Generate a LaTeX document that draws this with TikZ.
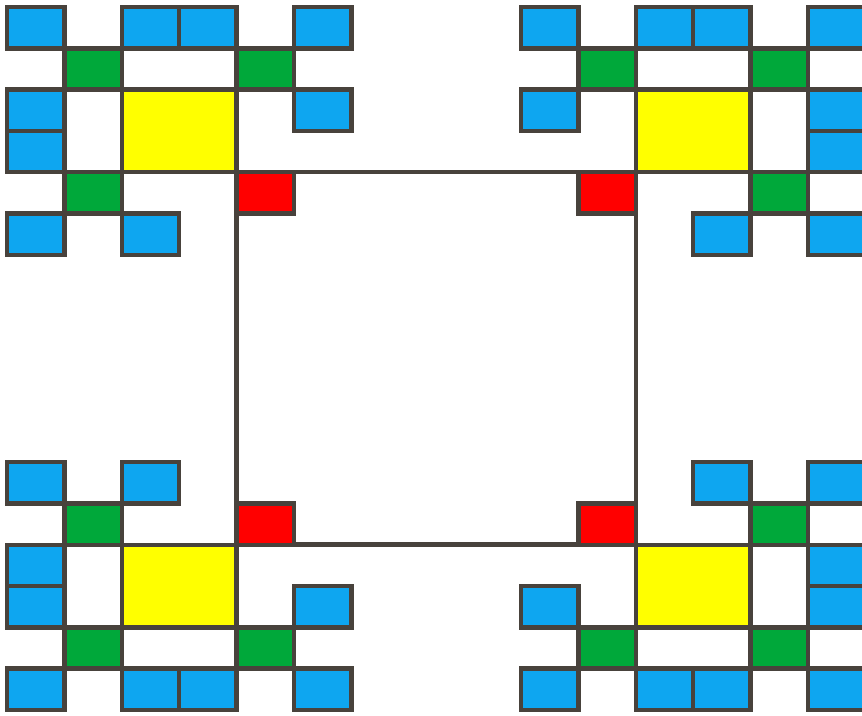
\documentclass[tikz,border=0pt]{standalone}
\definecolor{cellblue}{RGB}{14,166,240}
\definecolor{cellgreen}{RGB}{0,168,58}
\definecolor{cellyellow}{RGB}{255,255,0}
\definecolor{cellred}{RGB}{255,0,0}
\definecolor{edgecol}{RGB}{72,66,60}
\tikzset{
  cellbase/.style={draw=edgecol, line width=4.5pt, line join=miter},
  bluecell/.style={cellbase, fill=cellblue},
  greencell/.style={cellbase, fill=cellgreen},
  yellowcell/.style={cellbase, fill=cellyellow},
  redcell/.style={cellbase, fill=cellred},
  bigsquare/.style={draw=edgecol, line width=4.5pt}
}
\newcommand\drawquadrantcells{%
  \foreach \c/\r in {0/0,2/0,3/0,5/0,0/2,5/2,0/3,0/5,2/5} {\draw[bluecell] (\c,\r) rectangle ++(1,1);}
  \foreach \c/\r in {1/1,4/1,1/4} {\draw[greencell] (\c,\r) rectangle ++(1,1);}
  \draw[yellowcell] (2,2) rectangle (4,4);
  \draw[redcell] (4,4) rectangle (5,5);
}
\begin{document}
\begin{tikzpicture}[x=1pt,y=-1pt]
  \useasboundingbox (0,0) rectangle (862,715);
  \clip (0,0) rectangle (862,715);
  \fill[white] (0,0) rectangle (862,715);
  % central square
  \coordinate (sqTL) at (236.6,172.2);
  \coordinate (sqBR) at (635.8,544.6);
  \draw[bigsquare] (sqTL) rectangle (sqBR);
  % four quadrants
  \begin{scope}[shift={(7,7)}, xscale=57.4, yscale=41.3]
    \drawquadrantcells
  \end{scope}
  \begin{scope}[shift={(865.4,7)}, xscale=-57.4, yscale=41.3]
    \drawquadrantcells
  \end{scope}
  \begin{scope}[shift={(7,710)}, xscale=57.4, yscale=-41.3]
    \drawquadrantcells
  \end{scope}
  \begin{scope}[shift={(865.4,710)}, xscale=-57.4, yscale=-41.3]
    \drawquadrantcells
  \end{scope}
\end{tikzpicture}
\end{document}
